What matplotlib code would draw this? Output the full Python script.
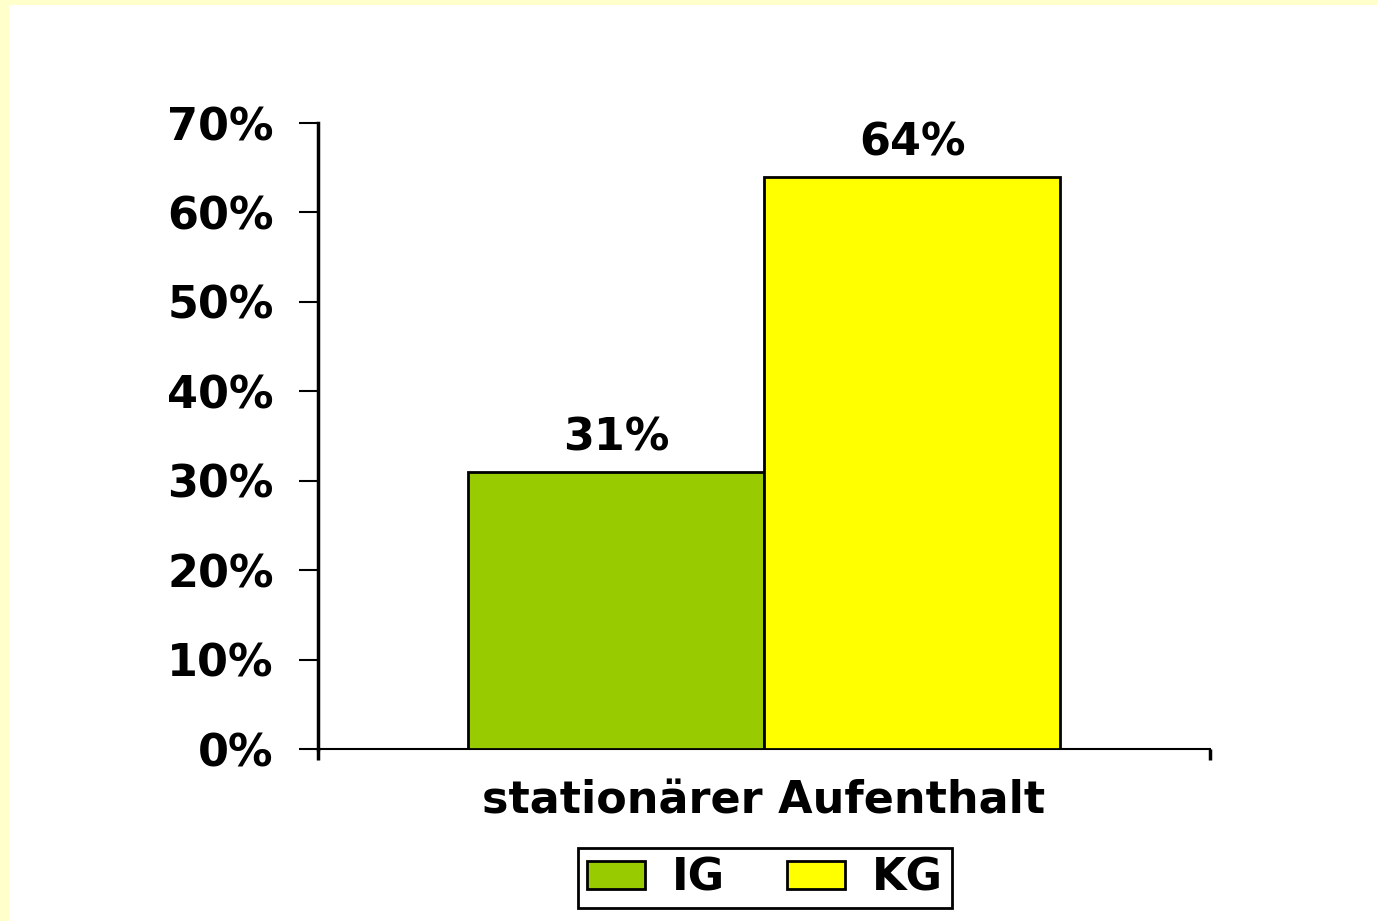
import matplotlib
matplotlib.use("Agg")
import matplotlib.pyplot as plt
from matplotlib.patches import Rectangle

# ── Data ──────────────────────────────────────────────────────────────────────
category = "stationärer Aufenthalt"
groups = ["IG", "KG"]
values = [31, 64]
y_ticks = [0, 10, 20, 30, 40, 50, 60, 70]
colors = ["#99CC00", "#FFFF00"]

plt.rcParams["font.family"] = "DejaVu Sans"
plt.rcParams["font.weight"] = "bold"

fig = plt.figure(figsize=(13.77, 9.21), dpi=100)
fig.patch.set_facecolor("white")

# light yellow slide frame (top and left)
fig.patches.append(Rectangle((0, 0), 9 / 1377, 1, transform=fig.transFigure,
                             facecolor="#FFFFCC", edgecolor="none", zorder=0))
fig.patches.append(Rectangle((0, 1 - 5 / 921), 1, 5 / 921, transform=fig.transFigure,
                             facecolor="#FFFFCC", edgecolor="none", zorder=0))

ax = fig.add_axes([318 / 1377, 1 - 749 / 921, 892 / 1377, 626 / 921])
ax.set_facecolor("white")

width = 0.332
offsets = [-0.166, 0.166]
for g, v, c, off in zip(groups, values, colors, offsets):
    ax.bar(off, v, width=width, color=c, edgecolor="black",
           linewidth=2, label=g, zorder=3)
    ax.annotate(f"{v}%", (off, v), xytext=(0, 9), textcoords="offset points",
                ha="center", va="bottom", fontsize=32, fontweight="bold")

ax.set_xlim(-0.5, 0.5)
ax.set_ylim(0, 70)

# y axis
ax.set_yticks(y_ticks)
ax.set_yticklabels([f"{t}%" for t in y_ticks])
ax.tick_params(axis="y", direction="out", length=14, width=1.5, pad=18,
               labelsize=32)

# x axis: category label in the middle, tick marks at both ends
ax.set_xticks([0])
ax.set_xticklabels([category])
ax.tick_params(axis="x", length=0, pad=22, labelsize=32)
ax.set_xticks([-0.5, 0.5], minor=True)
ax.tick_params(axis="x", which="minor", direction="out", length=8, width=2.5)

for s in ["top", "right"]:
    ax.spines[s].set_visible(False)
ax.spines["left"].set_linewidth(2.5)
ax.spines["bottom"].set_linewidth(1.5)

leg = fig.legend(loc="center", bbox_to_anchor=(765 / 1377, 1 - 878 / 921),
                 ncol=2, fontsize=32, frameon=True, fancybox=False,
                 framealpha=1, handlelength=1.3, handleheight=0.6,
                 handletextpad=0.6, columnspacing=1.4, borderpad=0.2,
                 borderaxespad=0)
leg.get_frame().set_edgecolor("black")
leg.get_frame().set_linewidth(2)
for h in leg.legend_handles:
    h.set_linewidth(2)

fig.savefig("out.png", dpi=100, facecolor=fig.get_facecolor())
